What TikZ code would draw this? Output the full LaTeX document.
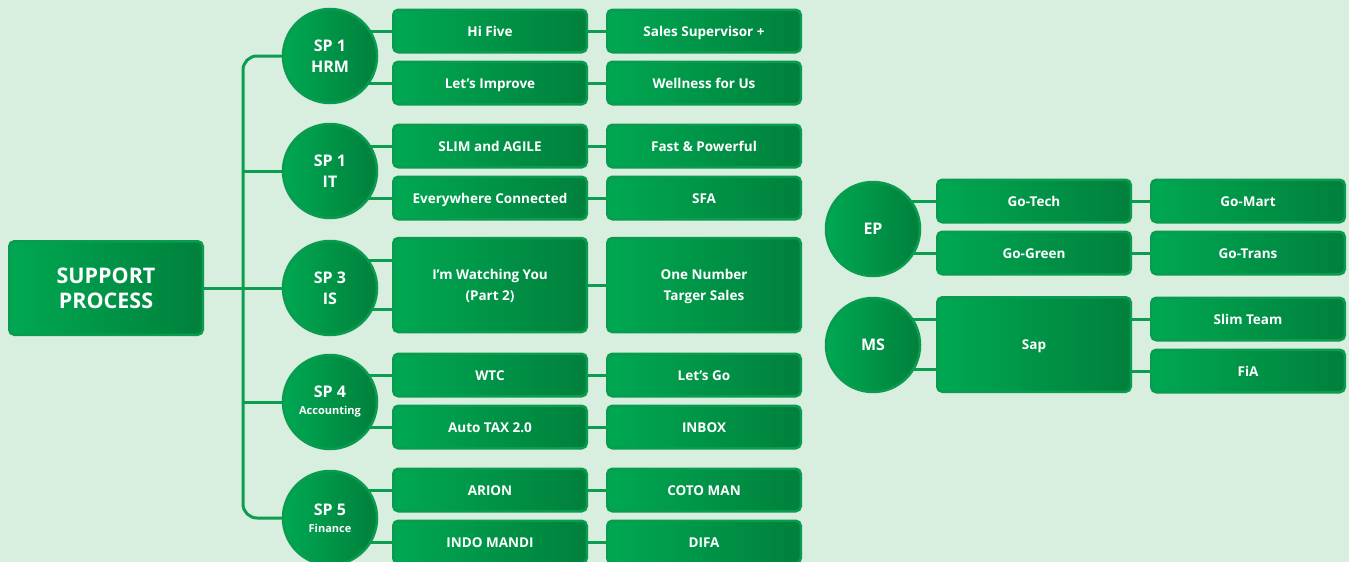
\documentclass[tikz,border=0pt]{standalone}
\usepackage{fontspec}
\setmainfont{Open Sans}
\usetikzlibrary{calc}
\definecolor{bgc}{RGB}{216,238,223}
\definecolor{gl}{RGB}{0,168,82}
\definecolor{gd}{RGB}{0,128,60}
\definecolor{edge}{RGB}{10,156,78}
\definecolor{lnc}{RGB}{12,158,80}
\newcommand{\subfnt}{\fontsize{11}{13}\selectfont}
\pgfdeclarelayer{bg}
\pgfdeclarelayer{background}
\pgfsetlayers{bg,background,main}
\tikzset{
  gbox/.style={rectangle, rounded corners=5pt, draw=edge, line width=2.5pt,
    left color=gl, right color=gd, text=white, inner sep=0pt,
    font=\fontsize{13.5}{21}\selectfont\bfseries, align=center},
  smallbox/.style={gbox, minimum width=193.5pt, minimum height=42.5pt,
    text height=10pt, text depth=0pt},
  tallbox/.style={gbox, minimum width=193.5pt, minimum height=94pt, text depth=1pt},
  gcirc/.style={circle, draw=edge, line width=2.5pt, left color=gl, right color=gd,
    text=white, inner sep=0pt, minimum size=94pt, align=center,
    font=\fontsize{16}{21}\selectfont\bfseries},
  conn/.style={draw=lnc, line width=3pt}
}
\begin{document}
\begin{tikzpicture}[x=1pt,y=-1pt]
\begin{pgfonlayer}{bg}
\fill[bgc] (0,0) rectangle (1349,562);
\end{pgfonlayer}
\useasboundingbox (0,0) rectangle (1349,562);

% main box
\node[gbox, minimum width=193.5pt, minimum height=93.5pt,
  font=\fontsize{21.5}{25}\selectfont\bfseries] (sp) at (106,288) {SUPPORT\\PROCESS};

% circles
\node[gcirc] (hrm) at (330,56) {SP 1\\HRM};
\node[gcirc] (it) at (330,171) {SP 1\\IT};
\node[gcirc] (is) at (330,288) {SP 3\\IS};
\node[gcirc] (acc) at (330,402) {SP 4\\[-4pt]{\subfnt Accounting}};
\node[gcirc] (fin) at (330,518) {SP 5\\[-4pt]{\subfnt Finance}};
\node[gcirc] (ep) at (873,229) {EP};
\node[gcirc] (ms) at (873,345) {MS};

% left column boxes
\node[smallbox] (hifive) at (490,31) {Hi Five};
\node[smallbox] (letimp) at (490,83) {Let’s Improve};
\node[smallbox] (slim) at (490,146) {SLIM and AGILE};
\node[smallbox] (every) at (490,198) {Everywhere Connected};
\node[tallbox] (watch) at (490,285) {I’m Watching You\\(Part 2)};
\node[smallbox] (wtc) at (490,375) {WTC};
\node[smallbox] (autotax) at (490,427) {Auto TAX 2.0};
\node[smallbox] (arion) at (490,490) {ARION};
\node[smallbox] (indo) at (490,542) {INDO MANDI};

% right column boxes
\node[smallbox] (sales) at (704,31) {Sales Supervisor +};
\node[smallbox] (well) at (704,83) {Wellness for Us};
\node[smallbox] (fast) at (704,146) {Fast \& Powerful};
\node[smallbox] (sfa) at (704,198) {SFA};
\node[tallbox] (onenum) at (704,285) {One Number\\Targer Sales};
\node[smallbox] (letsgo) at (704,375) {Let’s Go};
\node[smallbox] (inbox) at (704,427) {INBOX};
\node[smallbox] (coto) at (704,490) {COTO MAN};
\node[smallbox] (difa) at (704,542) {DIFA};

% EP / MS boxes
\node[smallbox] (gotech) at (1034,201) {Go-Tech};
\node[smallbox] (gogreen) at (1034,253) {Go-Green};
\node[smallbox] (gomart) at (1248,201) {Go-Mart};
\node[smallbox] (gotrans) at (1248,253) {Go-Trans};
\node[gbox, minimum width=193.5pt, minimum height=94.5pt, text height=10pt, text depth=0pt] (sap) at (1034,344.5) {Sap};
\node[smallbox] (slimteam) at (1248,319) {Slim Team};
\node[smallbox] (fia) at (1248,371) {FiA};

\coordinate (trunk) at (243,0);
\path (watch.west) ++(0,-25) coordinate (isA);
\path (watch.west) ++(0,24) coordinate (isB);
\path (sap.west) ++(0,-25) coordinate (msA);
\path (sap.west) ++(0,25) coordinate (msB);

\begin{pgfonlayer}{background}
\draw[conn, rounded corners=14pt] (hrm.center) -- (hrm.center -| trunk) |- (fin.center);
\draw[conn] (it.center) -- (it.center -| trunk);
\draw[conn] (is.center) -- (is.center -| trunk);
\draw[conn] (acc.center) -- (acc.center -| trunk);
\draw[conn] (sp.east) -- (sp.east -| trunk);

\foreach \c/\b in {hrm/hifive, hrm/letimp, it/slim, it/every, acc/wtc, acc/autotax, fin/arion, fin/indo, ep/gotech, ep/gogreen}
  \draw[conn] (\c.center |- \b.west) -- (\b.west);
\draw[conn] (is.center |- isA) -- (isA);
\draw[conn] (is.center |- isB) -- (isB);
\draw[conn] (ms.center |- msA) -- (msA);
\draw[conn] (ms.center |- msB) -- (msB);

\foreach \a/\b in {hifive/sales, letimp/well, slim/fast, every/sfa, watch/onenum, wtc/letsgo, autotax/inbox, arion/coto, indo/difa, gotech/gomart, gogreen/gotrans}
  \draw[conn] (\a.east) -- (\b.west);
\draw[conn] (sap.east |- slimteam.west) -- (slimteam.west);
\draw[conn] (sap.east |- fia.west) -- (fia.west);
\end{pgfonlayer}
\end{tikzpicture}
\end{document}
